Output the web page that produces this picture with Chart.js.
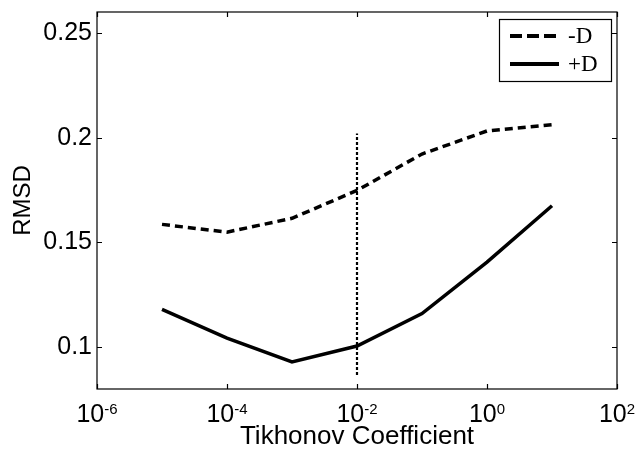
<!DOCTYPE html>
<html>
<head>
<meta charset="utf-8">
<script src="https://cdn.jsdelivr.net/npm/chart.js@4/dist/chart.umd.min.js"></script>
<style>
  html, body { margin: 0; padding: 0; background: #fff; }
  #wrap { width: 638px; height: 450px; }
</style>
</head>
<body>
<div id="wrap"><canvas id="rmsdChart"></canvas></div>
<script>
// Tikhonov coefficient (x, log scale) and RMSD values
const coefficients = [1e-5, 1e-4, 1e-3, 1e-2, 1e-1, 1e0, 1e1];
const rmsdMinusD = [0.1586, 0.1549, 0.1615, 0.1748, 0.1922, 0.2032, 0.2062];
const rmsdPlusD  = [0.1180, 0.1043, 0.0929, 0.1005, 0.1160, 0.1406, 0.1675];
const seriesLabels = ['-D', '+D'];

// vertical dotted marker at the chosen coefficient
const markerX = [1e-2, 1e-2];
const markerY = [0.0867, 0.2020];

const xTicks = [1e-6, 1e-4, 1e-2, 1e0, 1e2];
const yTicks = [0.1, 0.15, 0.2, 0.25];

const SANS = '"Liberation Sans", Arial, sans-serif';

// MATLAB style box, inward ticks, superscript tick labels and boxed legend
const matlabAxes = {
  id: 'matlabAxes',
  afterDraw(chart) {
    const { ctx, chartArea: a, scales: { x, y } } = chart;
    ctx.save();
    ctx.strokeStyle = '#000';
    ctx.lineWidth = 1.2;
    ctx.strokeRect(a.left, a.top, a.right - a.left, a.bottom - a.top);

    const len = 5;
    ctx.beginPath();
    xTicks.forEach(v => {
      const px = Math.round(x.getPixelForValue(v)) + 0.5;
      ctx.moveTo(px, a.bottom); ctx.lineTo(px, a.bottom - len);
      ctx.moveTo(px, a.top); ctx.lineTo(px, a.top + len);
    });
    yTicks.forEach(v => {
      const py = Math.round(y.getPixelForValue(v)) + 0.5;
      ctx.moveTo(a.left, py); ctx.lineTo(a.left + len, py);
      ctx.moveTo(a.right, py); ctx.lineTo(a.right - len, py);
    });
    ctx.stroke();

    // x tick labels: 10 with a raised exponent
    ctx.fillStyle = '#000';
    ctx.textBaseline = 'alphabetic';
    ctx.textAlign = 'left';
    xTicks.forEach(v => {
      const base = '10';
      const exp = String(Math.round(Math.log10(v)));
      ctx.font = '25px ' + SANS;
      const wb = ctx.measureText(base).width;
      ctx.font = '15px ' + SANS;
      const we = ctx.measureText(exp).width;
      const px = x.getPixelForValue(v);
      const start = px - (wb + we) / 2;
      ctx.font = '25px ' + SANS;
      ctx.fillText(base, start, 422);
      ctx.font = '15px ' + SANS;
      ctx.fillText(exp, start + wb, 414);
    });

    // legend
    const lx = 499, ly = 19, lw = 112, lh = 62;
    ctx.fillStyle = '#fff';
    ctx.fillRect(lx, ly, lw, lh);
    ctx.lineWidth = 1.2;
    ctx.strokeStyle = '#000';
    ctx.strokeRect(lx + 0.5, ly + 0.5, lw, lh);
    const rows = [36, 64];
    chart.data.datasets.slice(0, 2).forEach((ds, i) => {
      ctx.beginPath();
      ctx.lineWidth = 4;
      ctx.setLineDash(i === 0 ? [12, 5] : []);
      ctx.moveTo(510, rows[i]);
      ctx.lineTo(559, rows[i]);
      ctx.stroke();
      ctx.setLineDash([]);
      ctx.fillStyle = '#000';
      ctx.font = '23px "Liberation Serif", "Times New Roman", serif';
      ctx.textBaseline = 'middle';
      ctx.fillText(ds.label, 568, rows[i] + 1);
    });
    ctx.restore();
  }
};

const ctx = document.getElementById('rmsdChart').getContext('2d');
new Chart(ctx, {
  type: 'line',
  data: {
    datasets: [
      {
        label: seriesLabels[0],
        data: coefficients.map((c, i) => ({ x: c, y: rmsdMinusD[i] })),
        borderColor: '#000',
        borderWidth: 3.5,
        borderDash: [8, 5],
        pointRadius: 0,
        tension: 0
      },
      {
        label: seriesLabels[1],
        data: coefficients.map((c, i) => ({ x: c, y: rmsdPlusD[i] })),
        borderColor: '#000',
        borderWidth: 3.5,
        pointRadius: 0,
        tension: 0
      },
      {
        label: 'marker',
        data: markerX.map((c, i) => ({ x: c, y: markerY[i] })),
        borderColor: '#000',
        borderWidth: 2.2,
        borderDash: [3, 2],
        pointRadius: 0
      }
    ]
  },
  options: {
    responsive: true,
    maintainAspectRatio: false,
    animation: false,
    layout: { padding: { top: 12, right: 21, left: 0, bottom: 0 } },
    plugins: {
      legend: { display: false },
      tooltip: { enabled: false }
    },
    scales: {
      x: {
        type: 'logarithmic',
        min: 1e-6,
        max: 1e2,
        grid: { display: false, drawTicks: false },
        border: { display: false },
        ticks: { display: false },
        title: {
          display: true,
          text: 'Tikhonov Coefficient',
          color: '#000',
          font: { family: SANS, size: 26 },
          padding: { top: 0, bottom: -2 }
        },
        afterFit: s => { s.height = 61; s.paddingLeft = 0; s.paddingRight = 0; }
      },
      y: {
        type: 'linear',
        min: 0.08,
        max: 0.26,
        grid: { display: false, drawTicks: false },
        border: { display: false },
        afterBuildTicks: s => { s.ticks = yTicks.map(v => ({ value: v })); },
        ticks: {
          color: '#000',
          padding: 5,
          font: { family: SANS, size: 25 },
          callback: v => String(v)
        },
        title: {
          display: true,
          text: 'RMSD',
          color: '#000',
          font: { family: SANS, size: 24 },
          padding: { top: 9, bottom: 0 }
        },
        afterFit: s => { s.width = 97; s.paddingTop = 0; s.paddingBottom = 0; }
      }
    }
  },
  plugins: [matlabAxes]
});
</script>
</body>
</html>
